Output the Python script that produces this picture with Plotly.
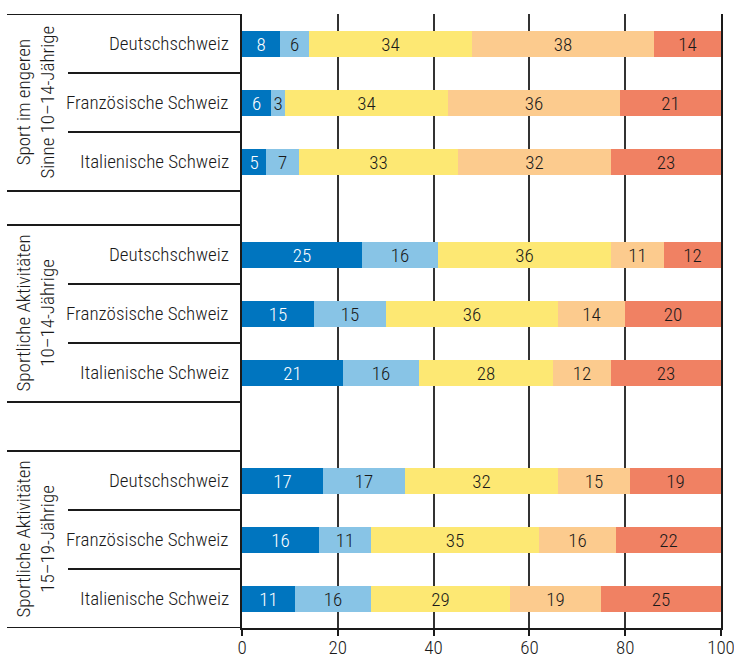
import plotly.graph_objects as go

# Daten: Anteile (%) je Region, fünf Stufen pro Balken
GROUPS = [
    "Sport im engeren<br>Sinne 10–14-Jährige",
    "Sportliche Aktivitäten<br>10–14-Jährige",
    "Sportliche Aktivitäten<br>15–19-Jährige",
]
REGIONS = ["Deutschschweiz", "Französische Schweiz", "Italienische Schweiz"]

STUFE_1 = [8, 6, 5, 25, 15, 21, 17, 16, 11]
STUFE_2 = [6, 3, 7, 16, 15, 16, 17, 11, 16]
STUFE_3 = [34, 34, 33, 36, 36, 28, 32, 35, 29]
STUFE_4 = [38, 36, 32, 11, 14, 12, 15, 16, 19]
STUFE_5 = [14, 21, 23, 12, 20, 23, 19, 22, 25]

X_TICKS = [0, 20, 40, 60, 80, 100]

SERIES = [STUFE_1, STUFE_2, STUFE_3, STUFE_4, STUFE_5]
COLORS = ["#0075BF", "#88C4E6", "#FDE873", "#FCCB8E", "#F08163"]
TEXT_COLORS = ["#FFFFFF", "#1A1A1A", "#1A1A1A", "#1A1A1A", "#1A1A1A"]

FONT = "Roboto Condensed, Liberation Sans Narrow, Open Sans, sans-serif"
FS = 19
WEIGHT = 300

# Layout in Pixel-Einheiten (y-Achse = Bildpixel)
W, H = 734, 666
PLOT_L, PLOT_R, PLOT_T, PLOT_B = 242, 721, 14, 628
GROUP_TOP = [14, 225, 451]
ROW_H = 59
BAR_H = 26

y_pos = [g + ROW_H * (i + 0.5) for g in GROUP_TOP for i in range(3)]

fig = go.Figure()
for vals, col, tcol in zip(SERIES, COLORS, TEXT_COLORS):
    fig.add_trace(go.Bar(
        x=vals, y=y_pos, orientation="h", width=BAR_H,
        marker=dict(color=col, line=dict(width=0)),
        text=[str(v) for v in vals], textposition="inside",
        insidetextanchor="middle", textangle=0,
        textfont=dict(color=tcol, size=FS, family=FONT, weight=WEIGHT),
        hoverinfo="skip",
    ))


def px_x(p):
    return (p - PLOT_L) / (PLOT_R - PLOT_L)


shapes = []
annotations = []
for gi, g in enumerate(GROUP_TOP):
    bottom = g + 3 * ROW_H
    for yy in (g, bottom):
        shapes.append(dict(type="line", xref="paper", yref="y",
                           x0=px_x(7), x1=0, y0=yy, y1=yy,
                           line=dict(color="#1A1A1A", width=2)))
    for i in (1, 2):
        yy = g + ROW_H * i
        shapes.append(dict(type="line", xref="paper", yref="y",
                           x0=px_x(68), x1=0, y0=yy, y1=yy,
                           line=dict(color="#1A1A1A", width=2)))
    annotations.append(dict(
        text=GROUPS[gi], xref="paper", yref="y", x=px_x(35), y=g + 1.5 * ROW_H,
        textangle=-90, showarrow=False, align="center",
        font=dict(size=FS, color="#1A1A1A", family=FONT, weight=WEIGHT),
        xanchor="center", yanchor="middle"))
    for i, reg in enumerate(REGIONS):
        annotations.append(dict(
            text=reg, xref="paper", yref="y", x=px_x(231), y=g + ROW_H * (i + 0.5),
            showarrow=False, xanchor="right", yanchor="middle",
            font=dict(size=FS, color="#1A1A1A", family=FONT, weight=WEIGHT)))

fig.update_layout(
    barmode="stack", bargap=0,
    width=W, height=H,
    margin=dict(l=PLOT_L, r=W - PLOT_R, t=PLOT_T, b=H - PLOT_B, autoexpand=False),
    paper_bgcolor="white", plot_bgcolor="white",
    showlegend=False,
    uniformtext=dict(minsize=FS, mode="show"),
    shapes=shapes, annotations=annotations,
    font=dict(family=FONT, color="#1A1A1A", size=FS, weight=WEIGHT),
)
fig.update_xaxes(
    range=[0, 100], tickvals=X_TICKS, ticks="outside", ticklen=6,
    tickwidth=2, tickcolor="#1A1A1A", ticklabelstandoff=-5,
    ticklabeloverflow="allow",
    showgrid=True, gridcolor="#333333", gridwidth=2,
    showline=True, linecolor="#1A1A1A", linewidth=2,
    zeroline=False, fixedrange=True,
    tickfont=dict(size=FS, color="#1A1A1A", family=FONT, weight=WEIGHT),
)
fig.update_yaxes(
    range=[PLOT_B, PLOT_T], showticklabels=False, ticks="",
    showgrid=False, zeroline=False, mirror=True,
    showline=True, linecolor="#1A1A1A", linewidth=2, fixedrange=True,
)

fig.write_html("out.html", config={"displayModeBar": False},
               post_script="document.body.style.margin='0';")
